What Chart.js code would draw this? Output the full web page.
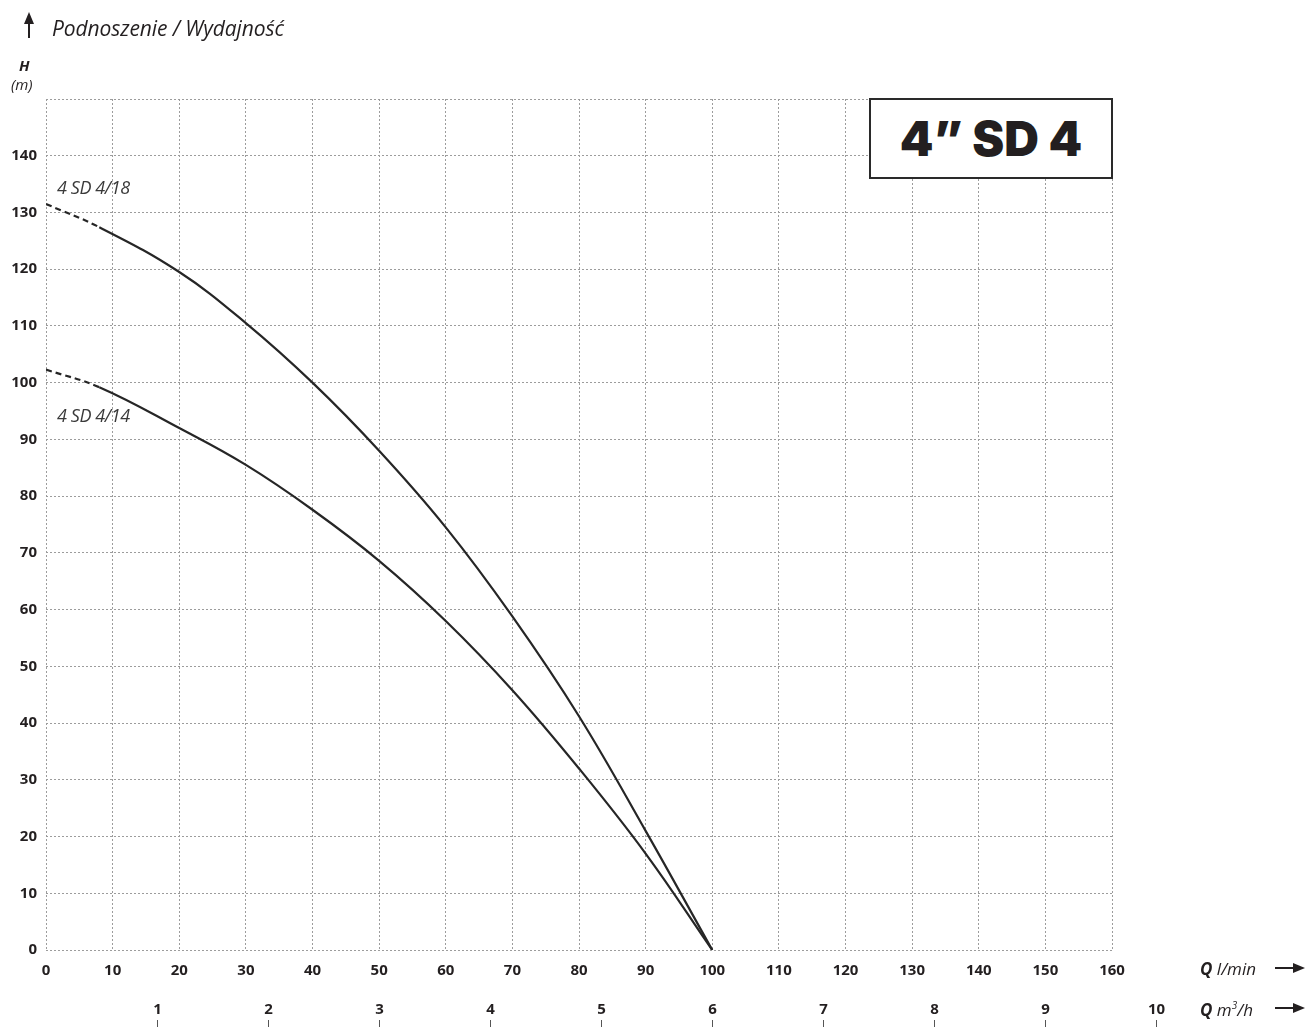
<!DOCTYPE html>
<html>
<head>
<meta charset="utf-8">
<script src="https://cdn.jsdelivr.net/npm/chart.js@4.4.0/dist/chart.umd.min.js"></script>
<style>
  html, body { margin: 0; padding: 0; background: #fff; }
  #wrap { position: relative; width: 1306px; height: 1027px; overflow: hidden; }
  #chart { position: absolute; left: 0; top: 0; }
  .txt { position: absolute; color: #231f20; font-family: "Open Sans", sans-serif; white-space: nowrap; line-height: 1; }
  .title { left: 52px; top: 18px; font-size: 21px; font-style: italic; letter-spacing: -0.1px; }
  .h { left: 19px; top: 58px; font-size: 15px; font-weight: 700; font-style: italic; }
  .m { left: 11px; top: 77px; font-size: 15px; font-style: italic; }
  .curve { font-size: 18px; font-style: italic; color: #3a3a3a; letter-spacing: -0.4px; }
  .q { font-size: 17px; font-style: italic; }
  .q b { font-weight: 700; }
  #box { position: absolute; left: 869px; top: 98px; width: 240px; height: 77px; border: 2px solid #2a2a2a;
         background: #fff; display: flex; align-items: center; justify-content: center;
         font-family: Inter, "Open Sans", sans-serif; font-weight: 900; font-size: 48px; color: #231f20; }
</style>
</head>
<body>
<div id="wrap">
  <canvas id="chart" width="1306" height="1027"></canvas>
  <div class="txt title">Podnoszenie / Wydajność</div>
  <div class="txt h">H</div>
  <div class="txt m">(m)</div>
  <div class="txt curve" style="left:57px;top:178px;">4 SD 4/18</div>
  <div class="txt curve" style="left:57px;top:406px;">4 SD 4/14</div>
  <div class="txt q" style="left:1200px;top:960px;"><b>Q</b> l/min</div>
  <div class="txt q" style="left:1200px;top:1000px;"><b>Q</b> m<sup style="font-size:10px">3</sup>/h</div>
  <div id="box">4” SD 4</div>
</div>
<script>
const flowLpm = [0, 8, 20, 30, 40, 50, 60, 70, 80, 90, 100];
const head18 = [131.5, 127.4, 119.5, 110.5, 100, 88, 74.5, 58.8, 41.2, 21, 0];
const head14 = [102.3, 99.2, 92, 85.5, 77.6, 68.6, 58, 45.8, 32, 17, 0];
const dashedUpTo = 8; // poczatek krzywej rysowany linia przerywana

const lpmTicks = [0, 10, 20, 30, 40, 50, 60, 70, 80, 90, 100, 110, 120, 130, 140, 150, 160];
const headTicks = [0, 10, 20, 30, 40, 50, 60, 70, 80, 90, 100, 110, 120, 130, 140, 150];
const m3hTicks = [1, 2, 3, 4, 5, 6, 7, 8, 9, 10];
const LPM_PER_M3H = 1000 / 60;

const INK = '#231f20';
const GRID = '#9c9c9c';

function toPoints(heads) {
  return flowLpm.map((q, i) => ({ x: q, y: heads[i] }));
}

function curve(heads) {
  return {
    data: toPoints(heads),
    borderColor: '#262626',
    borderWidth: 2.2,
    pointRadius: 0,
    tension: 0.4,
    segment: {
      borderDash: ctx => ctx.p1.parsed.x <= dashedUpTo ? [6, 4] : undefined,
    },
  };
}

// druga os Q w m3/h + strzalki
const extras = {
  id: 'extras',
  afterDraw(chart) {
    const { ctx, scales: { x } } = chart;
    ctx.save();
    ctx.fillStyle = INK;
    ctx.strokeStyle = '#555';
    ctx.lineWidth = 1;
    ctx.font = 'bold 15px "Open Sans", sans-serif';
    ctx.textAlign = 'center';
    ctx.textBaseline = 'middle';
    m3hTicks.forEach(v => {
      const px = Math.round(x.getPixelForValue(v * LPM_PER_M3H)) + 0.5;
      ctx.fillText(String(v), px, 1010);
      ctx.beginPath();
      ctx.moveTo(px, 1020);
      ctx.lineTo(px, 1027);
      ctx.stroke();
    });

    // strzalki
    ctx.strokeStyle = INK;
    ctx.lineWidth = 2;
    const arrowRight = (x0, x1, y) => {
      ctx.beginPath(); ctx.moveTo(x0, y); ctx.lineTo(x1 - 8, y); ctx.stroke();
      ctx.beginPath(); ctx.moveTo(x1, y); ctx.lineTo(x1 - 12, y - 5); ctx.lineTo(x1 - 12, y + 5); ctx.closePath(); ctx.fill();
    };
    arrowRight(1275, 1305, 968);
    arrowRight(1275, 1305, 1008);
    ctx.beginPath(); ctx.moveTo(29, 38); ctx.lineTo(29, 20); ctx.stroke();
    ctx.beginPath(); ctx.moveTo(29, 12); ctx.lineTo(24, 24); ctx.lineTo(34, 24); ctx.closePath(); ctx.fill();
    ctx.restore();
  },
};

new Chart(document.getElementById('chart'), {
  type: 'line',
  data: {
    datasets: [curve(head18), curve(head14)],
  },
  options: {
    responsive: false,
    animation: false,
    events: [],
    layout: { padding: { left: 0, top: 99, right: 194, bottom: 0 } },
    plugins: {
      legend: { display: false },
      tooltip: { enabled: false },
    },
    scales: {
      x: {
        type: 'linear',
        min: 0,
        max: 160,
        afterFit(scale) { scale.height = 77; },
        afterBuildTicks(scale) { scale.ticks = lpmTicks.map(v => ({ value: v })); },
        grid: { color: GRID, lineWidth: 1, drawTicks: false },
        border: { display: false, dash: [2, 2] },
        ticks: {
          padding: 12,
          color: INK,
          maxRotation: 0,
          font: { family: '"Open Sans", sans-serif', size: 15, weight: 'bold' },
        },
      },
      y: {
        type: 'linear',
        min: 0,
        max: 150,
        afterFit(scale) { scale.width = 46; },
        afterBuildTicks(scale) { scale.ticks = headTicks.map(v => ({ value: v })); },
        grid: { color: GRID, lineWidth: 1, drawTicks: false },
        border: { display: false, dash: [2, 2] },
        ticks: {
          padding: 9,
          color: INK,
          font: { family: '"Open Sans", sans-serif', size: 15, weight: 'bold' },
          callback(v) { return v === 150 ? '' : v; },
        },
      },
    },
  },
  plugins: [extras],
});
</script>
</body>
</html>
